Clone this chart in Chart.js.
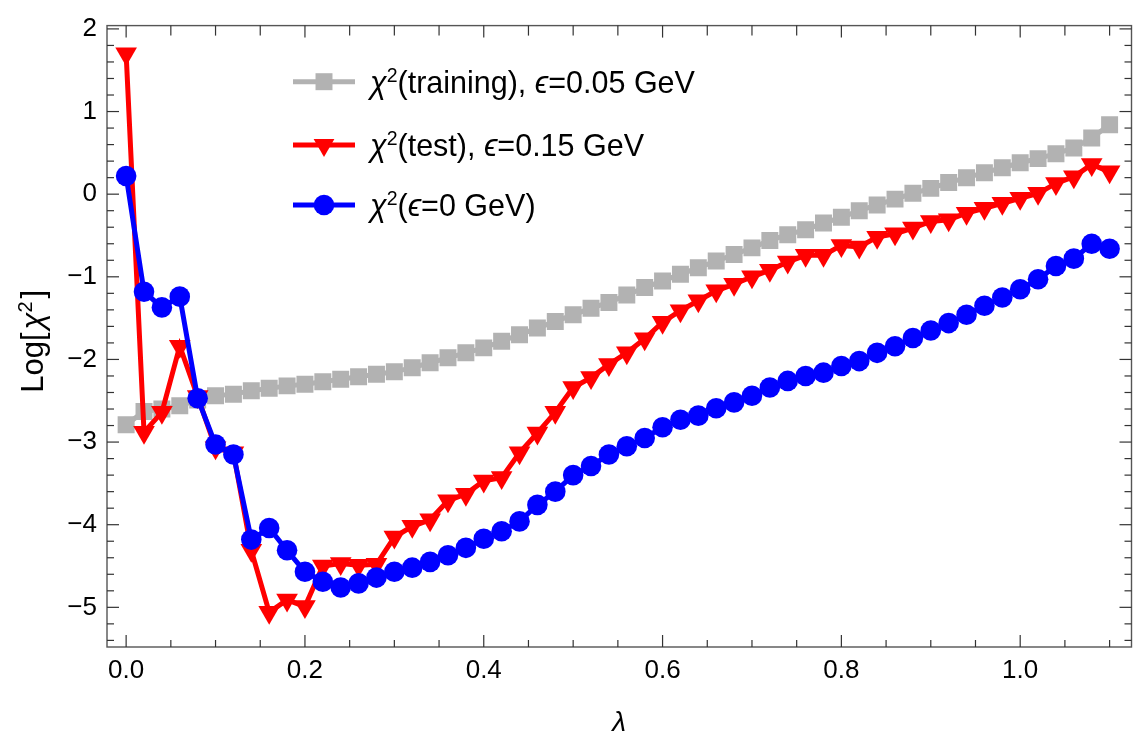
<!DOCTYPE html>
<html><head><meta charset="utf-8">
<script src="https://cdn.jsdelivr.net/npm/chart.js@4.4.1/dist/chart.umd.min.js"></script>
<style>html,body{margin:0;padding:0;background:#fff}#wrap{width:1144px;height:741px;position:relative}canvas{display:block}</style>
</head><body><div id="wrap"><canvas id="c" width="1144" height="741"></canvas></div>
<script>
// ---- data ----
const lambdas = [0.00,0.02,0.04,0.06,0.08,0.10,0.12,0.14,0.16,0.18,0.20,0.22,0.24,0.26,0.28,0.30,0.32,0.34,0.36,0.38,
  0.40,0.42,0.44,0.46,0.48,0.50,0.52,0.54,0.56,0.58,0.60,0.62,0.64,0.66,0.68,0.70,0.72,0.74,0.76,0.78,
  0.80,0.82,0.84,0.86,0.88,0.90,0.92,0.94,0.96,0.98,1.00,1.02,1.04,1.06,1.08,1.10];
const trainingChi2 = [-2.79,-2.63,-2.60,-2.56,-2.49,-2.44,-2.42,-2.38,-2.35,-2.32,
  -2.30,-2.27,-2.24,-2.21,-2.18,-2.15,-2.10,-2.04,-1.98,-1.92,
  -1.86,-1.78,-1.70,-1.62,-1.54,-1.46,-1.38,-1.31,-1.22,-1.13,
  -1.05,-0.97,-0.89,-0.81,-0.73,-0.65,-0.56,-0.49,-0.43,-0.35,
  -0.28,-0.20,-0.13,-0.06,0.01,0.07,0.14,0.20,0.26,0.32,
  0.38,0.43,0.49,0.56,0.68,0.84];
const testChi2 = [1.70,-2.88,-2.64,-1.84,-2.45,-3.07,-3.13,-4.31,-5.06,-4.91,
  -4.99,-4.50,-4.47,-4.49,-4.48,-4.15,-4.02,-3.94,-3.71,-3.63,
  -3.47,-3.43,-3.13,-2.89,-2.64,-2.34,-2.22,-2.06,-1.92,-1.75,
  -1.55,-1.41,-1.29,-1.17,-1.09,-1.00,-0.92,-0.82,-0.74,-0.74,
  -0.62,-0.64,-0.52,-0.48,-0.41,-0.33,-0.31,-0.23,-0.17,-0.11,
  -0.05,0.01,0.13,0.21,0.36,0.27];
const exactChi2 = [0.22,-1.18,-1.37,-1.24,-2.47,-3.03,-3.15,-4.18,-4.04,-4.31,
  -4.57,-4.69,-4.76,-4.71,-4.64,-4.57,-4.52,-4.45,-4.37,-4.28,
  -4.17,-4.08,-3.96,-3.76,-3.60,-3.40,-3.29,-3.15,-3.05,-2.95,
  -2.82,-2.73,-2.68,-2.59,-2.52,-2.44,-2.34,-2.26,-2.20,-2.16,
  -2.08,-2.02,-1.92,-1.84,-1.74,-1.65,-1.56,-1.46,-1.35,-1.25,
  -1.15,-1.03,-0.87,-0.78,-0.60,-0.66];
const xTickLabels = ['0.0','0.2','0.4','0.6','0.8','1.0'];
const yTickLabels = ['\u22125','\u22124','\u22123','\u22122','\u22121','0','1','2'];
const legendTexts = [['(training), ', '=0.05 GeV'], ['(test), ', '=0.15 GeV'], ['(', '=0 GeV)']];

// ---- styles ----
const FONT = '"Liberation Sans", Arial, "DejaVu Sans", sans-serif';
const GREY = '#b2b2b2', RED = '#ff0000', BLUE = '#0000ff';
const toPts = ys => ys.map((y, i) => ({x: lambdas[i], y}));
const near = (v, s) => Math.abs(v / s - Math.round(v / s)) < 1e-6;

const framePlugin = {
  id: 'frame',
  beforeDatasetsDraw(chart) {
    const {ctx, chartArea: a, scales: {x, y}} = chart;
    ctx.save();
    ctx.strokeStyle = '#555'; ctx.lineWidth = 1.4;
    ctx.strokeRect(a.left, a.top, a.right - a.left, a.bottom - a.top);
    ctx.strokeStyle = '#333'; ctx.lineWidth = 1.2;
    const seg = (x1, y1, x2, y2) => { ctx.beginPath(); ctx.moveTo(x1, y1); ctx.lineTo(x2, y2); ctx.stroke(); };
    x.ticks.forEach(t => {
      const p = x.getPixelForValue(t.value); const m = near(t.value, 0.2);
      seg(p, a.bottom, p, a.bottom - (m ? 12 : 7));
      seg(p, a.top, p, a.top + (m ? 12 : 10));
    });
    y.ticks.forEach(t => {
      const p = y.getPixelForValue(t.value); const m = near(t.value, 1);
      seg(a.left, p, a.left + (m ? 12 : 7), p);
      seg(a.right, p, a.right - (m ? 12 : 7), p);
    });
    ctx.restore();
  }
};

function drawSegs(ctx, x, y, segs) {
  for (const s of segs) {
    ctx.font = s.f; ctx.fillText(s.t, x, y - (s.r || 0)); x += ctx.measureText(s.t).width + (s.g || 0);
  }
}
function segsWidth(ctx, segs) { let w = 0; for (const s of segs) { ctx.font = s.f; w += ctx.measureText(s.t).width + (s.g || 0); } return w; }

function marker(ctx, style, cx, cy, r, color) {
  ctx.fillStyle = color; ctx.beginPath();
  if (style === 'rect') { const h = Math.SQRT1_2 * r; ctx.rect(cx - h, cy - h, 2 * h, 2 * h); }
  else if (style === 'circle') { ctx.arc(cx, cy, r, 0, Math.PI * 2); }
  else { ctx.moveTo(cx, cy + r); ctx.lineTo(cx - r * Math.sin(Math.PI / 3), cy - r / 2); ctx.lineTo(cx + r * Math.sin(Math.PI / 3), cy - r / 2); ctx.closePath(); }
  ctx.fill();
}

const textPlugin = {
  id: 'texts',
  afterDraw(chart) {
    const ctx = chart.ctx;
    ctx.save();
    ctx.fillStyle = '#000'; ctx.textBaseline = 'alphabetic'; ctx.textAlign = 'left';
    const main = '30.5px ' + FONT, ital = 'italic 30.5px ' + FONT, sup = '19.5px ' + FONT;
    const rows = [{y: 81.7, c: GREY, s: 'rect', r: 12}, {y: 145, c: RED, s: 'tri', r: 12}, {y: 205, c: BLUE, s: 'circle', r: 10.3}];
    rows.forEach((row, i) => {
      ctx.strokeStyle = row.c; ctx.lineWidth = 5;
      ctx.beginPath(); ctx.moveTo(293, row.y); ctx.lineTo(355, row.y); ctx.stroke();
      marker(ctx, row.s, 324, row.y, row.r, row.c);
      ctx.fillStyle = '#000';
      drawSegs(ctx, 370, row.y + 10.8, [
        {t: '\u03C7', f: ital}, {t: '2', f: sup, r: 10.5},
        {t: legendTexts[i][0], f: main}, {t: '\u03F5', f: ital}, {t: legendTexts[i][1], f: main}]);
    });
    // x title
    ctx.font = 'italic 28px ' + FONT; ctx.textAlign = 'center';
    ctx.fillText('\u03BB', (chart.chartArea.left + chart.chartArea.right) / 2, 731);
    // y title
    const ys = [{t: 'Log[', f: '31px ' + FONT, g: 3}, {t: '\u03C7', f: 'italic 31px ' + FONT},
                {t: '2', f: '20px ' + FONT, r: 11, g: 3}, {t: ']', f: '31px ' + FONT}];
    ctx.textAlign = 'left';
    const w = segsWidth(ctx, ys);
    ctx.translate(32, (chart.chartArea.top + chart.chartArea.bottom) / 2 + 5);
    ctx.rotate(-Math.PI / 2);
    drawSegs(ctx, -w / 2, 11, ys);
    ctx.restore();
  }
};

new Chart(document.getElementById('c').getContext('2d'), {
  type: 'line',
  data: {
    datasets: [
      {label: 'training', data: toPts(trainingChi2), borderColor: GREY, backgroundColor: GREY, borderWidth: 5,
       pointStyle: 'rect', pointRadius: 12, pointBorderWidth: 0, pointBackgroundColor: GREY, order: 3},
      {label: 'test', data: toPts(testChi2), borderColor: RED, backgroundColor: RED, borderWidth: 5,
       pointStyle: 'triangle', pointRotation: 180, pointRadius: 12.5, pointBorderWidth: 0, pointBackgroundColor: RED, order: 2},
      {label: 'exact', data: toPts(exactChi2), borderColor: BLUE, backgroundColor: BLUE, borderWidth: 5,
       pointStyle: 'circle', pointRadius: 10.3, pointBorderWidth: 0, pointBackgroundColor: BLUE, order: 1}
    ]
  },
  options: {
    responsive: false, animation: false, devicePixelRatio: 1,
    layout: {padding: {top: 12.6, right: 8, left: 0, bottom: 0}},
    elements: {line: {tension: 0}},
    plugins: {legend: {display: false}, tooltip: {enabled: false}},
    scales: {
      x: {
        type: 'linear', min: -0.0214, max: 1.1245,
        afterFit(s) { s.height = 94; },
        grid: {display: false, drawTicks: false}, border: {display: false},
        ticks: {stepSize: 0.05, includeBounds: false, autoSkip: false, maxRotation: 0, padding: 8, color: '#000',
          font: {family: FONT, size: 26},
          callback(v) { return near(v, 0.2) ? xTickLabels[Math.round(v / 0.2)] : ''; }}
      },
      y: {
        type: 'linear', min: -5.48, max: 2.04,
        afterFit(s) { s.width = 107; },
        grid: {display: false, drawTicks: false}, border: {display: false},
        ticks: {stepSize: 0.2, includeBounds: false, autoSkip: false, padding: 10, color: '#000',
          font: {family: FONT, size: 26},
          callback(v) { return near(v, 1) ? yTickLabels[Math.round(v) + 5] : ''; }}
      }
    }
  },
  plugins: [framePlugin, textPlugin]
});
</script></body></html>
